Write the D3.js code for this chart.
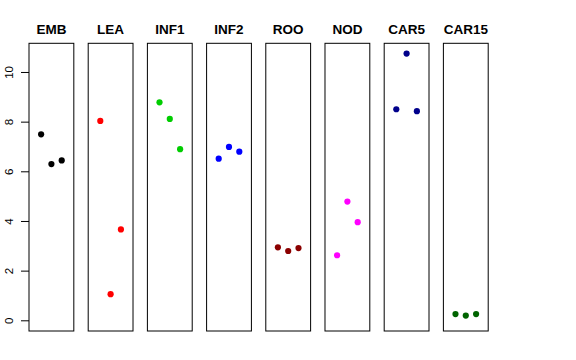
<!DOCTYPE html>
<html>
<head>
<meta charset="utf-8">
<script src="https://cdn.jsdelivr.net/npm/d3@7"></script>
<style>
  body { margin: 0; background: #fff; }
  svg { display: block; }
</style>
</head>
<body>
<script>
const WIDTH = 576;
const HEIGHT = 360;

// one panel per tissue, three replicates each
const tissues = ['EMB', 'LEA', 'INF1', 'INF2', 'ROO', 'NOD', 'CAR5', 'CAR15'];
const colors = ['#000000', '#ff0000', '#00cd00', '#0000ff', '#8b0000', '#ff00ff', '#00008b', '#006400'];
const rep1 = [7.49, 8.03, 8.78, 6.51, 2.94, 2.62, 8.50, 0.25];
const rep2 = [6.29, 1.05, 8.11, 6.98, 2.79, 4.78, 10.74, 0.19];
const rep3 = [6.44, 3.66, 6.89, 6.79, 2.91, 3.95, 8.42, 0.25];
const yTicks = [0, 2, 4, 6, 8, 10];

const svg = d3.select('body')
  .append('svg')
  .attr('width', WIDTH)
  .attr('height', HEIGHT);

const x = d3.scaleBand()
  .domain(tissues)
  .range([29, 488.2])
  .paddingInner(0.243)
  .paddingOuter(0);

const y = d3.scaleLinear()
  .domain([-0.431, 11.155])
  .range([331, 43.3]);

const jitter = d3.scalePoint()
  .domain([0, 1, 2])
  .range([-10.3, 10.3]);

const points = [];
tissues.forEach((t, i) => {
  [rep1[i], rep2[i], rep3[i]].forEach((v, j) => {
    points.push({tissue: t, rep: j, value: v, color: colors[i]});
  });
});

// panel frames
svg.selectAll('rect.panel')
  .data(tissues)
  .enter()
  .append('rect')
  .attr('class', 'panel')
  .attr('x', d => x(d))
  .attr('y', y.range()[1])
  .attr('width', x.bandwidth())
  .attr('height', y.range()[0] - y.range()[1])
  .attr('fill', 'none')
  .attr('stroke', '#000')
  .attr('stroke-width', 1);

// titles
svg.selectAll('text.title')
  .data(tissues)
  .enter()
  .append('text')
  .attr('class', 'title')
  .attr('x', d => x(d) + x.bandwidth()/2)
  .attr('y', 33.5)
  .attr('text-anchor', 'middle')
  .attr('font-family', 'Liberation Sans, Arial, sans-serif')
  .attr('font-weight', 'bold')
  .attr('font-size', 13.5)
  .text(d => d);

// y axis on the first panel
const axis = svg.append('g')
  .attr('transform', `translate(${x(tissues[0])},0)`)
  .call(d3.axisLeft(y).tickValues(yTicks).tickSize(8).tickPadding(5).tickFormat(d3.format('d')));
axis.select('.domain').remove();
axis.selectAll('.tick line').attr('stroke', '#000');
axis.selectAll('.tick text')
  .attr('font-family', 'Liberation Sans, Arial, sans-serif')
  .attr('font-size', 11.5)
  .attr('fill', '#000')
  .attr('transform', 'rotate(-90)')
  .attr('x', 0)
  .attr('y', -16.5)
  .attr('dy', 0)
  .attr('text-anchor', 'middle');

// points
svg.selectAll('circle')
  .data(points)
  .enter()
  .append('circle')
  .attr('cx', d => x(d.tissue) + x.bandwidth()/2 + jitter(d.rep))
  .attr('cy', d => y(d.value))
  .attr('r', 3.1)
  .attr('fill', d => d.color);
</script>
</body>
</html>
